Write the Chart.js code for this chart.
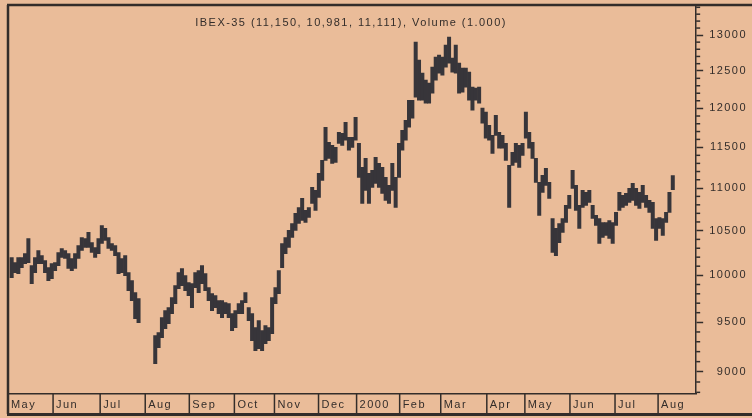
<!DOCTYPE html>
<html><head><meta charset="utf-8">
<script src="https://cdn.jsdelivr.net/npm/chart.js@4/dist/chart.umd.min.js"></script>
<style>html,body{margin:0;padding:0;background:#eabc99;}canvas{display:block;}</style>
</head><body>
<canvas id="c" width="752" height="418"></canvas>
<script>
const TITLE = 'IBEX-35 (11,150, 10,981, 11,111), Volume (1.000)';
const MONTH_LABELS = ['May','Jun','Jul','Aug','Sep','Oct','Nov','Dec','2000','Feb','Mar','Apr','May','Jun','Jul','Aug'];
// bar index at which each month begins
const MONTH_POS = [-1.1, 12.4, 26.5, 40.0, 53.2, 66.7, 78.7, 91.9, 103.3, 116.2, 128.5, 142.3, 153.7, 167.2, 180.7, 193.6];
const X_MIN = -1.1, X_MAX = 205.0;
const Y_MIN = 8786, Y_MAX = 13434;
const Y_TICKS = [9000, 9500, 10000, 10500, 11000, 11500, 12000, 12500, 13000];
const Y_MINOR = [8800, 8900, 9100, 9200, 9300, 9400, 9600, 9700, 9800, 9900, 10100, 10200, 10300, 10400,
  10600, 10700, 10800, 10900, 11100, 11200, 11300, 11400, 11600, 11700, 11800, 11900, 12100, 12200, 12300, 12400,
  12600, 12700, 12800, 12900, 13100, 13200, 13300, 13400];

const HIGHS = [
  10196, 10140, 10196, 10196, 10240, 10410, 10107, 10196, 10274, 10218,
  10162, 10085, 10129, 10140, 10252, 10297, 10274, 10240, 10185, 10240,
  10331, 10421, 10410, 10479, 10364, 10308, 10410, 10559, 10525, 10421,
  10353, 10331, 10252, 10185, 10218, 10030, 9942, 9813, 9748,
  null, null, null, null,
  9362, 9393, 9548, 9621, 9653, 9760, 9888,
  10030, 10074, 9997, 9920, 9910, 10030, 10052, 10107, 10019, 9866,
  9802, 9781, 9727, 9727, 9706, 9695, 9590, 9621, 9695, 9727,
  9813, 9653, 9590, 9444, 9517, 9413, 9465, 9444, 9760, 9866,
  10052, 10353, 10421, 10502, 10582, 10699, 10769, 10876, 10734, 10769,
  11008, 10972, 11177, 11338, 11755, 11563, 11525, 11500, 11690, 11677,
  11819, 11627, 11627, 11884, 11550, 11251, 11363, 11177, 11214, 11375,
  11301, 11251, 11129, 11032, 11301, 11129, 11550, 11716, 11845, 12107,
  12107, 12901, 12649, 12470, 12375, 12335, 12552, 12691, 12719, 12691,
  12859, 12972, 12677, 12859, 12607, 12539, 12539, 12484, 12281, 12268,
  12281, 12002, 11950, 11781, 11652, 11910, 11690, 11652, 11550, 11276,
  11438, 11550, 11525, 11550, 11950, 11690, 11563, 11363, 11068, 11153,
  11239, 11068, 10640, 10525, 10582, 10640, 10793, 10912, 11214, 11032,
  10793, 10972, 10948, 10972, 10793, 10676, 10640, 10594, 10594, 10617,
  10594, 10711, 10948, 10912, 10936, 10996, 11056, 10996, 10948, 11032,
  10912, 10852, 10829, 10640, 10652, 10640, 10711, 10948, 11150
];
const LOWS = [
  9975, 10030, 10019, 10085, 10129, 10140, 9910, 10030, 10129, 10129,
  10030, 9942, 9964, 10052, 10107, 10196, 10185, 10074, 10052, 10074,
  10185, 10274, 10308, 10308, 10252, 10196, 10240, 10353, 10387, 10297,
  10274, 10218, 10019, 10030, 9997, 9834, 9727, 9538, 9496,
  null, null, null, null,
  9079, 9240, 9342, 9434, 9486, 9590, 9695,
  9855, 9888, 9834, 9781, 9653, 9866, 9813, 9910, 9834, 9727,
  9621, 9653, 9590, 9548, 9590, 9548, 9413, 9444, 9590, 9590,
  9706, 9517, 9311, 9209, 9229, 9209, 9280, 9311, 9383, 9695,
  9802, 10085, 10240, 10308, 10421, 10502, 10582, 10617, 10594, 10652,
  10817, 10734, 10888, 11092, 11338, 11363, 11301, 11313, 11550, 11525,
  11589, 11463, 11500, 11589, 11129, 10817, 10972, 10817, 11008, 11056,
  11008, 10936, 10852, 10817, 10972, 10769, 11129, 11463, 11589, 11755,
  11871, 12147, 12107, 12107, 12067, 12067, 12201, 12375, 12470, 12443,
  12552, 12607, 12484, 12470, 12201, 12214, 12281, 12107, 11976, 12107,
  12067, 11807, 11614, 11589, 11425, 11652, 11488, 11488, 11338, 10769,
  11276, 11313, 11251, 11400, 11614, 11488, 11363, 11068, 10676, 10948,
  11032, 10876, 10252, 10218, 10364, 10479, 10594, 10757, 10996, 10734,
  10525, 10769, 10793, 10829, 10640, 10559, 10353, 10421, 10444, 10410,
  10353, 10559, 10734, 10769, 10793, 10829, 10852, 10793, 10757, 10829,
  10769, 10711, 10525, 10387, 10525, 10444, 10594, 10711, 10981
];

const INK = '#332d2a';
const BAR_INK = '#37353a';
const FONT = { family: '"Liberation Sans", Arial, sans-serif', size: 11 };
const SPACING = '1.45px';

const points = [];
HIGHS.forEach((h, i) => { if (h !== null && LOWS[i] !== null) points.push({ x: i, y: [LOWS[i], h] }); });

const noPad = s => { s.paddingTop = 0; s.paddingBottom = 0; s.paddingLeft = 0; s.paddingRight = 0; };

const decor = {
  id: 'decor',
  beforeUpdate(c) { c.ctx.letterSpacing = SPACING; },
  beforeLayout(c) { c.ctx.letterSpacing = SPACING; },
  beforeDraw(c) { c.ctx.letterSpacing = SPACING; },
  afterDraw(c) {
    const ctx = c.ctx, a = c.chartArea, ys = c.scales.y, xs = c.scales.x;
    ctx.save();
    ctx.strokeStyle = INK;
    ctx.lineWidth = 1.5;
    // minor ticks on the price axis
    Y_MINOR.forEach(v => {
      const y = ys.getPixelForValue(v);
      ctx.beginPath(); ctx.moveTo(a.right, y); ctx.lineTo(a.right + 4, y); ctx.stroke();
    });
    // month separators in the date strip
    MONTH_POS.forEach(v => {
      const x = xs.getPixelForValue(v);
      ctx.beginPath(); ctx.moveTo(x, a.bottom); ctx.lineTo(x, c.height - 4); ctx.stroke();
    });
    // frame
    ctx.lineWidth = 2.5;
    ctx.beginPath(); ctx.moveTo(a.left - 1, a.top); ctx.lineTo(c.width, a.top); ctx.stroke();
    ctx.beginPath(); ctx.moveTo(a.left, a.top); ctx.lineTo(a.left, c.height - 4); ctx.stroke();
    ctx.lineWidth = 3;
    ctx.beginPath(); ctx.moveTo(a.left - 1, c.height - 3.5); ctx.lineTo(c.width, c.height - 3.5); ctx.stroke();
    // title
    ctx.fillStyle = INK;
    ctx.font = '11px "Liberation Sans", Arial, sans-serif';
    ctx.letterSpacing = SPACING;
    ctx.textAlign = 'center';
    ctx.textBaseline = 'alphabetic';
    ctx.fillText(TITLE, (a.left + a.right) / 2 - 1, a.top + 21);
    ctx.restore();
  }
};

new Chart(document.getElementById('c'), {
  type: 'bar',
  data: { datasets: [{ data: points, backgroundColor: BAR_INK, borderWidth: 0,
    barPercentage: 1, categoryPercentage: 1 }] },
  options: {
    responsive: false, animation: false, devicePixelRatio: 1,
    layout: { padding: { top: 5, left: 8, right: 5, bottom: 1 } },
    plugins: { legend: { display: false }, tooltip: { enabled: false }, title: { display: false } },
    scales: {
      x: {
        type: 'linear', min: X_MIN, max: X_MAX, offset: false,
        afterBuildTicks: s => { s.ticks = MONTH_POS.map(v => ({ value: v })); },
        afterFit: noPad,
        ticks: { autoSkip: false, maxRotation: 0, minRotation: 0, align: 'start', labelOffset: 3, padding: 5,
          color: INK, font: FONT, callback: (v, i) => MONTH_LABELS[i] },
        grid: { drawOnChartArea: false, drawTicks: false },
        border: { display: true, color: INK, width: 1.5 }
      },
      y: {
        type: 'logarithmic', position: 'right', min: Y_MIN, max: Y_MAX,
        afterBuildTicks: s => { s.ticks = Y_TICKS.map(v => ({ value: v })); },
        afterFit: noPad,
        ticks: { autoSkip: false, crossAlign: 'far', padding: 3, color: INK, font: FONT,
          callback: v => String(v) },
        grid: { drawOnChartArea: false, drawTicks: true, tickLength: 7, tickColor: INK, tickWidth: 1.5 },
        border: { display: true, color: INK, width: 1.5 }
      }
    }
  },
  plugins: [decor]
});
</script>
</body></html>
